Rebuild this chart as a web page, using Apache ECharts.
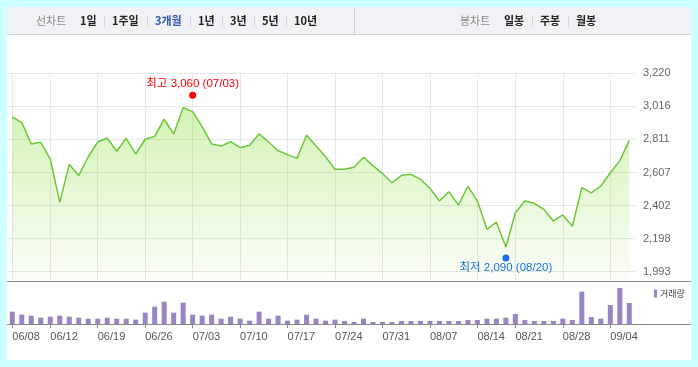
<!DOCTYPE html>
<html>
<head>
<meta charset="utf-8">
<script src="https://cdn.jsdelivr.net/npm/echarts@6/dist/echarts.min.js"></script>
<style>
html, body { margin: 0; padding: 0; background: #ccffff; }
#wrap { position: relative; width: 698px; height: 367px; }
.panel { position: absolute; left: 7px; top: 7px; width: 684px; height: 353px; background: #fff; }
.toolbar { position: absolute; left: 7px; top: 7px; width: 684px; height: 27px; background: #f1f2f6; border-bottom: 1px solid #d3d5da; }
#chart { position: absolute; left: 0; top: 0; width: 698px; height: 367px; }
</style>
</head>
<body>
<div id="wrap">
  <div class="panel"></div>
  <div class="toolbar"></div>
  <div id="chart"></div>
</div>
<script>
// 일별 종가 (3개월)
const dates = [
  '06/08', '06/09', '06/10', '06/11', '06/12', '06/13', '06/14', '06/15', '06/16', '06/19',
  '06/20', '06/21', '06/22', '06/23', '06/26', '06/27', '06/28', '06/29', '06/30', '07/03',
  '07/04', '07/05', '07/06', '07/07', '07/10', '07/11', '07/12', '07/13', '07/14', '07/17',
  '07/18', '07/19', '07/20', '07/21', '07/24', '07/25', '07/26', '07/27', '07/28', '07/31',
  '08/01', '08/02', '08/03', '08/04', '08/07', '08/08', '08/09', '08/10', '08/11', '08/14',
  '08/16', '08/17', '08/18', '08/21', '08/22', '08/23', '08/24', '08/25', '08/28', '08/29',
  '08/30', '08/31', '09/01', '09/04', '09/05', '09/06'
]
const prices = [
  2950, 2915, 2783, 2793, 2690, 2422, 2657, 2587, 2704, 2795,
  2820, 2738, 2818, 2721, 2812, 2830, 2936, 2845, 3007, 2983,
  2890, 2783, 2770, 2797, 2760, 2775, 2845, 2795, 2741, 2717,
  2694, 2837, 2770, 2704, 2626, 2626, 2639, 2701, 2649, 2600,
  2543, 2589, 2595, 2564, 2509, 2430, 2488, 2405, 2521, 2430,
  2255, 2299, 2146, 2358, 2430, 2416, 2379, 2307, 2344, 2274,
  2513, 2480, 2523, 2605, 2680, 2805
]
// 거래량 (천주)
const volumes = [
  37, 28, 25, 19, 22, 25, 22, 19, 16, 16,
  19, 16, 16, 13, 34, 52, 67, 34, 64, 28,
  25, 28, 16, 22, 16, 10, 37, 16, 25, 10,
  13, 28, 16, 10, 13, 9, 6, 16, 6, 6,
  6, 9, 9, 9, 9, 9, 9, 9, 12, 12,
  16, 16, 19, 30, 12, 9, 9, 9, 16, 12,
  97, 21, 16, 57, 108, 63
]
const tickIdx = [0, 4, 9, 14, 19, 24, 29, 34, 39, 44, 49, 53, 58, 63]
const yTicks = [1993, 2198, 2402, 2607, 2811, 3016, 3220]

const highIdx = 19, highVal = 3060, highDate = '07/03'
const lowIdx = 52, lowVal = 2090, lowDate = '08/20'

const leftMenu = ['1일', '1주일', '3개월', '1년', '3년', '5년', '10년']
const rightMenu = ['일봉', '주봉', '월봉']

const FONT = '"Liberation Sans", "Noto Sans CJK KR", sans-serif'
const KFONT = '"Noto Sans CJK KR", "Liberation Sans", sans-serif'

const fmt = (v) => Math.round(v).toLocaleString('en-US')
const showTick = (i) => tickIdx.indexOf(i) >= 0

const yMin = yTicks[0]
const yMax = yTicks[yTicks.length - 1]
const yStep = (yMax - yMin) / (yTicks.length - 1)
// 가격 영역은 최저 눈금 아래로 조금 더 내려감
const pxPerUnit = 198.4 / (yMax - yMin)
const areaMin = yMin - 9.3 / pxPerUnit

// 상단 메뉴
const graphics = []
const leftX = [80, 112, 155, 198, 230, 262, 294]
const leftSep = [104.5, 147.5, 190.5, 222.5, 254.5, 286.5]
const rightX = [504, 540, 576]
const rightSep = [532.5, 568.5]
graphics.push({ type: 'text', x: 36, y: 21, style: { text: '선차트', fill: '#8a8a8a', font: '11px ' + KFONT, verticalAlign: 'middle' } })
leftMenu.forEach((t, i) => {
  graphics.push({
    type: 'text', x: leftX[i], y: 21,
    style: { text: t, fill: t === '3개월' ? '#3355b0' : '#222', font: 'bold 11px ' + KFONT, verticalAlign: 'middle' }
  })
})
leftSep.concat(rightSep).forEach((x) => {
  graphics.push({ type: 'line', shape: { x1: x, y1: 15, x2: x, y2: 27 }, style: { stroke: '#d8d8d8', lineWidth: 1 } })
})
graphics.push({ type: 'line', shape: { x1: 354.5, y1: 7, x2: 354.5, y2: 34 }, style: { stroke: '#cfd1d6', lineWidth: 1 } })
graphics.push({ type: 'text', x: 460, y: 21, style: { text: '봉차트', fill: '#8a8a8a', font: '11px ' + KFONT, verticalAlign: 'middle' } })
rightMenu.forEach((t, i) => {
  graphics.push({ type: 'text', x: rightX[i], y: 21, style: { text: t, fill: '#222', font: 'bold 11px ' + KFONT, verticalAlign: 'middle' } })
})
// 가격/거래량 구분선, 거래량 기준선
graphics.push({ type: 'line', z: 10, shape: { x1: 7, y1: 281.5, x2: 691, y2: 281.5 }, style: { stroke: '#8a8a8a', lineWidth: 1 } })
graphics.push({ type: 'line', z: 10, shape: { x1: 7, y1: 324.5, x2: 691, y2: 324.5 }, style: { stroke: '#8a8a8a', lineWidth: 1 } })

const chart = echarts.init(document.getElementById('chart'), null, { renderer: 'canvas' })

const option = {
  backgroundColor: 'transparent',
  animation: false,
  textStyle: { fontFamily: FONT },
  graphic: graphics,
  legend: {
    data: ['거래량'],
    left: 654,
    top: 289,
    padding: 0,
    icon: 'rect',
    itemWidth: 3,
    itemHeight: 8,
    textStyle: { fontSize: 9, color: '#444', fontFamily: KFONT, padding: [0, 0, 0, -2] }
  },
  grid: [
    { left: 12.3, width: 617, top: 73.3, height: 207.7, outerBoundsMode: 'none' },
    { left: 7, width: 630, top: 73.3, height: 198.4, outerBoundsMode: 'none' },
    { left: 12.3, width: 617, top: 281, height: 43, outerBoundsMode: 'none' }
  ],
  xAxis: [
    {
      gridIndex: 0, type: 'category', data: dates, boundaryGap: false,
      axisLine: { show: false }, axisTick: { show: false }, axisLabel: { show: false },
      splitLine: { show: true, interval: showTick, lineStyle: { color: '#e6e6e6', width: 1 } }
    },
    { gridIndex: 1, type: 'value', show: false },
    {
      gridIndex: 2, type: 'category', data: dates, boundaryGap: false,
      axisLine: { show: false },
      axisTick: { show: true, interval: showTick, length: 4, lineStyle: { color: '#888' } },
      axisLabel: { interval: showTick, align: 'left', color: '#555', fontSize: 11, margin: 7, fontFamily: FONT },
      splitLine: { show: false }
    }
  ],
  yAxis: [
    { gridIndex: 0, type: 'value', min: areaMin, max: yMax, show: false },
    {
      gridIndex: 1, type: 'value', position: 'right', min: yMin, max: yMax, interval: yStep,
      axisLine: { show: false }, axisTick: { show: false },
      axisLabel: { color: '#666', fontSize: 11, margin: 6, formatter: fmt, fontFamily: FONT },
      splitLine: { show: true, lineStyle: { color: '#e6e6e6', width: 1 } }
    },
    { gridIndex: 2, type: 'value', min: 0, max: 129, show: false }
  ],
  series: [
    {
      name: '종가',
      type: 'line',
      xAxisIndex: 0,
      yAxisIndex: 0,
      data: prices,
      symbol: 'none',
      z: 3,
      lineStyle: { color: '#6cc83a', width: 1.5 },
      areaStyle: {
        color: new echarts.graphic.LinearGradient(0, 0, 0, 1, [
          { offset: 0, color: 'rgba(150,225,80,0.6)' },
          { offset: 1, color: 'rgba(150,225,80,0.06)' }
        ])
      },
      markPoint: {
        symbol: 'circle',
        symbolSize: 7,
        animation: false,
        data: [
          {
            coord: [highIdx, highVal], symbolOffset: [0, -4],
            itemStyle: { color: '#f00' },
            label: {
              show: true, position: 'top', distance: 2, color: '#f00', fontSize: 11.5,
              fontFamily: FONT, formatter: '최고 ' + fmt(highVal) + ' (' + highDate + ')'
            }
          },
          {
            coord: [lowIdx, lowVal], symbolOffset: [0, 2],
            itemStyle: { color: '#1a6fdc' },
            label: {
              show: true, position: 'bottom', distance: 1, color: '#1a6fdc', fontSize: 11.5,
              fontFamily: FONT, formatter: '최저 ' + fmt(lowVal) + ' (' + lowDate + ')'
            }
          }
        ]
      }
    },
    {
      name: '거래량',
      type: 'bar',
      xAxisIndex: 2,
      yAxisIndex: 2,
      data: volumes,
      barWidth: 5,
      clip: false,
      itemStyle: { color: '#9985c4' }
    }
  ]
}

chart.setOption(option)
</script>
</body>
</html>
